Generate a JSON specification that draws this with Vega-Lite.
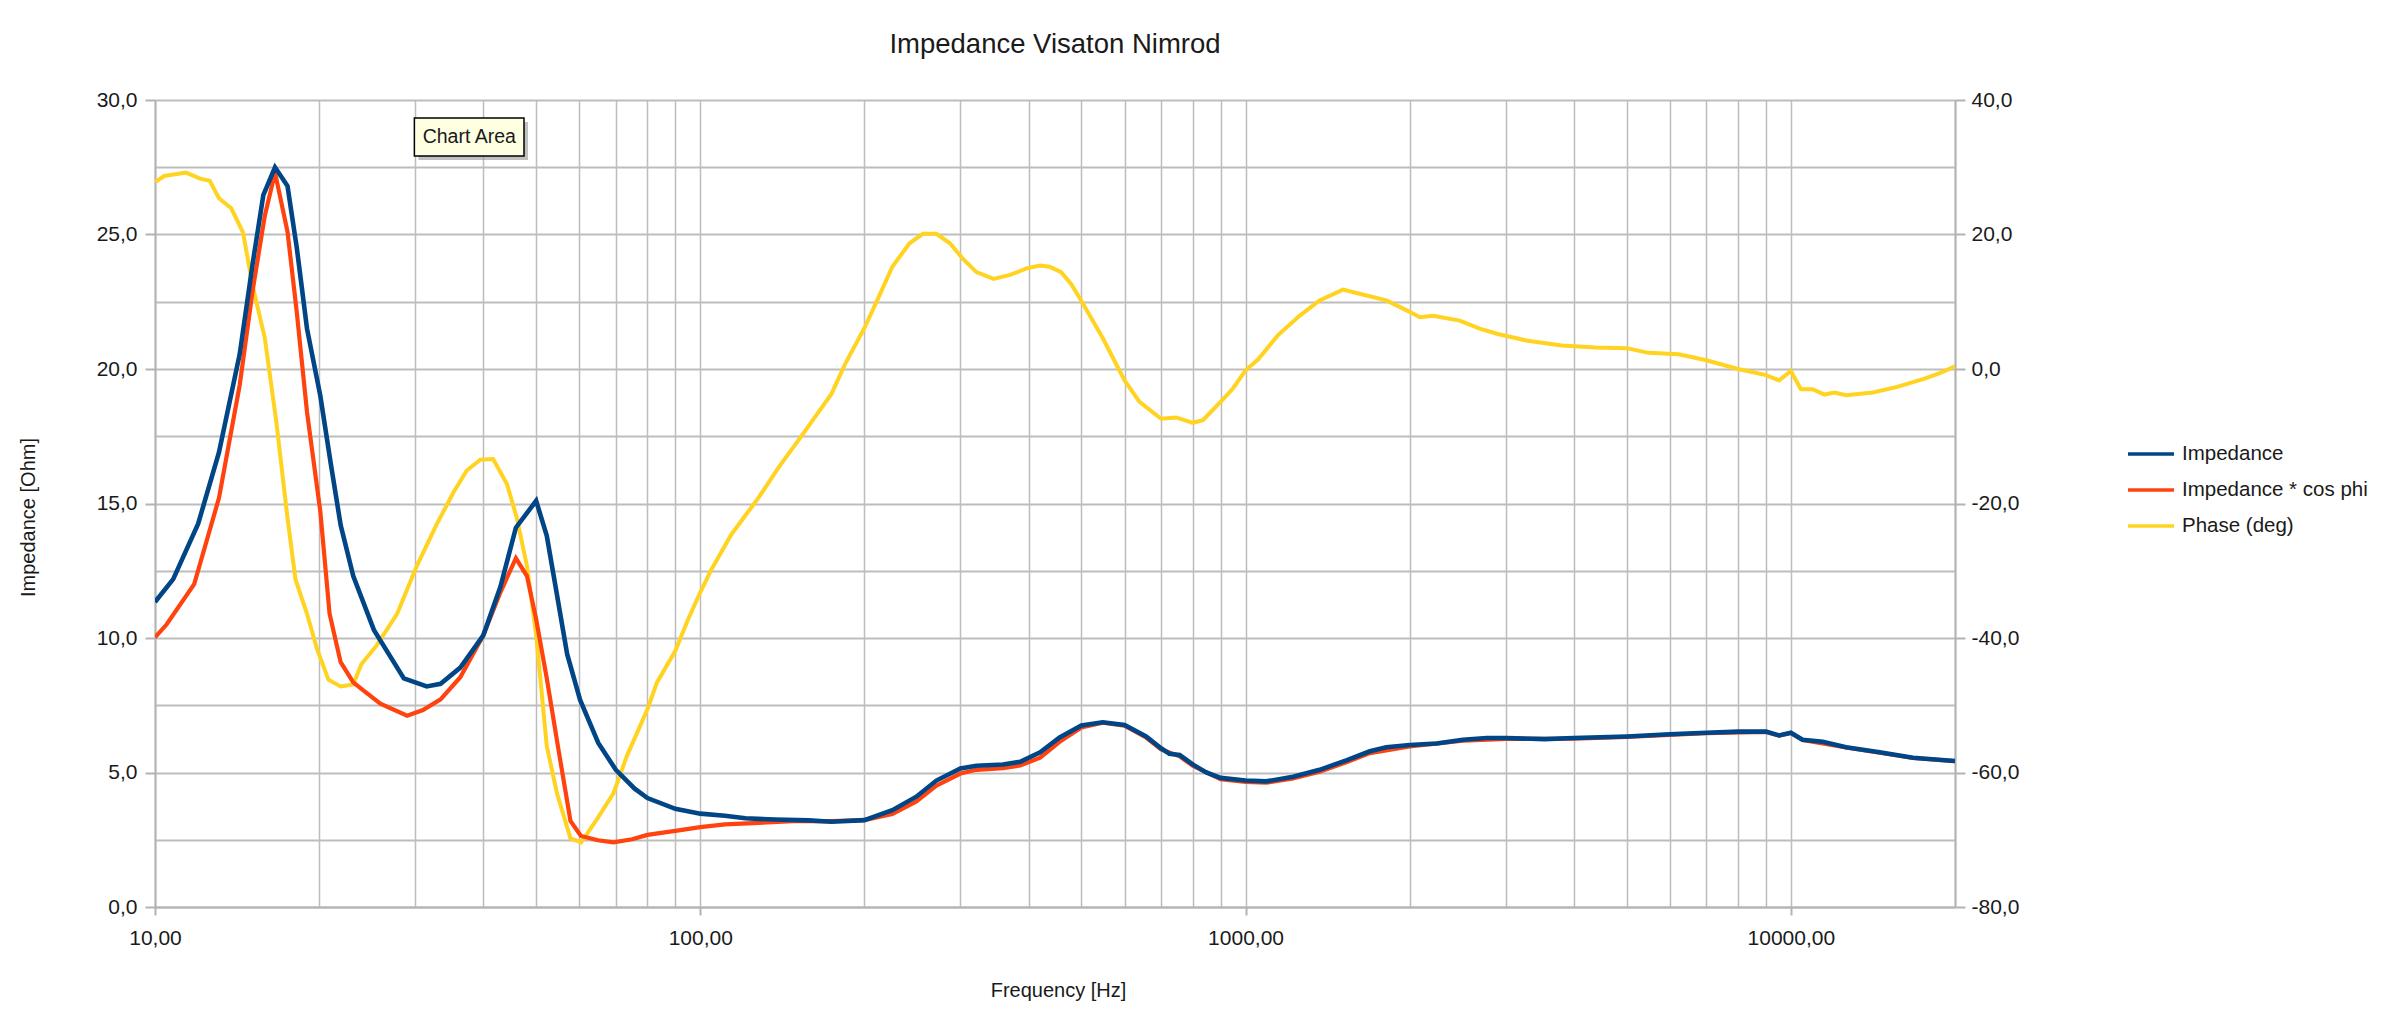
{
  "$schema": "https://vega.github.io/schema/vega-lite/v6.json",
  "width": 1800,
  "height": 807,
  "autosize": {"type": "none"},
  "padding": {"left": 155, "top": 100, "right": 430, "bottom": 111},
  "background": "white",
  "title": {
    "text": "Impedance Visaton Nimrod",
    "font": "Liberation Sans",
    "fontSize": 27.5,
    "fontWeight": "normal",
    "color": "#1a1a1a",
    "anchor": "middle",
    "frame": "group",
    "baseline": "alphabetic",
    "offset": 9
  },
  "config": {
    "locale": {"number": {"decimal": ",", "thousands": ".", "grouping": [3], "currency": ["", ""], "minus": "-"}},
    "font": "Liberation Sans",
    "view": {"stroke": null},
    "axis": {
      "labelFont": "Liberation Sans",
      "labelFontSize": 21,
      "labelColor": "#1a1a1a",
      "titleFont": "Liberation Sans",
      "titleFontSize": 20,
      "titleFontWeight": "normal",
      "titleColor": "#1a1a1a",
      "domainColor": "#b3b3b3",
      "domainWidth": 2,
      "tickColor": "#b3b3b3",
      "tickWidth": 2,
      "gridColor": "#bdbdbd",
      "labelOverlap": false,
      "labelFlush": false
    }
  },
  "datasets": {
    "curves": [
      {"f": 10, "v": 11.34, "s": "Impedance"},
      {"f": 10.8, "v": 12.19, "s": "Impedance"},
      {"f": 12.0, "v": 14.25, "s": "Impedance"},
      {"f": 13.1, "v": 16.9, "s": "Impedance"},
      {"f": 14.3, "v": 20.55, "s": "Impedance"},
      {"f": 15.1, "v": 23.9, "s": "Impedance"},
      {"f": 15.8, "v": 26.46, "s": "Impedance"},
      {"f": 16.6, "v": 27.5, "s": "Impedance"},
      {"f": 17.5, "v": 26.8, "s": "Impedance"},
      {"f": 18.2, "v": 24.5, "s": "Impedance"},
      {"f": 19.0, "v": 21.5, "s": "Impedance"},
      {"f": 20.1, "v": 19.0, "s": "Impedance"},
      {"f": 21.0, "v": 16.5, "s": "Impedance"},
      {"f": 21.9, "v": 14.2, "s": "Impedance"},
      {"f": 23.1, "v": 12.3, "s": "Impedance"},
      {"f": 25.2, "v": 10.3, "s": "Impedance"},
      {"f": 28.6, "v": 8.5, "s": "Impedance"},
      {"f": 31.5, "v": 8.2, "s": "Impedance"},
      {"f": 33.4, "v": 8.3, "s": "Impedance"},
      {"f": 36.3, "v": 8.9, "s": "Impedance"},
      {"f": 40, "v": 10.1, "s": "Impedance"},
      {"f": 43, "v": 11.9, "s": "Impedance"},
      {"f": 45.9, "v": 14.1, "s": "Impedance"},
      {"f": 50, "v": 15.1, "s": "Impedance"},
      {"f": 52.3, "v": 13.8, "s": "Impedance"},
      {"f": 54.6, "v": 11.6, "s": "Impedance"},
      {"f": 57, "v": 9.4, "s": "Impedance"},
      {"f": 60.2, "v": 7.7, "s": "Impedance"},
      {"f": 65, "v": 6.1, "s": "Impedance"},
      {"f": 70, "v": 5.1, "s": "Impedance"},
      {"f": 75.8, "v": 4.4, "s": "Impedance"},
      {"f": 80, "v": 4.05, "s": "Impedance"},
      {"f": 90, "v": 3.65, "s": "Impedance"},
      {"f": 100, "v": 3.47, "s": "Impedance"},
      {"f": 111, "v": 3.39, "s": "Impedance"},
      {"f": 121, "v": 3.3, "s": "Impedance"},
      {"f": 137, "v": 3.25, "s": "Impedance"},
      {"f": 158, "v": 3.22, "s": "Impedance"},
      {"f": 174, "v": 3.17, "s": "Impedance"},
      {"f": 200, "v": 3.23, "s": "Impedance"},
      {"f": 225, "v": 3.6, "s": "Impedance"},
      {"f": 249, "v": 4.1, "s": "Impedance"},
      {"f": 271, "v": 4.7, "s": "Impedance"},
      {"f": 300, "v": 5.15, "s": "Impedance"},
      {"f": 321, "v": 5.25, "s": "Impedance"},
      {"f": 359, "v": 5.3, "s": "Impedance"},
      {"f": 386, "v": 5.4, "s": "Impedance"},
      {"f": 420, "v": 5.75, "s": "Impedance"},
      {"f": 456, "v": 6.3, "s": "Impedance"},
      {"f": 500, "v": 6.75, "s": "Impedance"},
      {"f": 547, "v": 6.87, "s": "Impedance"},
      {"f": 600, "v": 6.77, "s": "Impedance"},
      {"f": 657, "v": 6.34, "s": "Impedance"},
      {"f": 700, "v": 5.9, "s": "Impedance"},
      {"f": 725, "v": 5.7, "s": "Impedance"},
      {"f": 757, "v": 5.65, "s": "Impedance"},
      {"f": 800, "v": 5.3, "s": "Impedance"},
      {"f": 847, "v": 5.0, "s": "Impedance"},
      {"f": 900, "v": 4.8, "s": "Impedance"},
      {"f": 1000, "v": 4.7, "s": "Impedance"},
      {"f": 1091, "v": 4.67, "s": "Impedance"},
      {"f": 1222, "v": 4.84, "s": "Impedance"},
      {"f": 1367, "v": 5.1, "s": "Impedance"},
      {"f": 1530, "v": 5.45, "s": "Impedance"},
      {"f": 1690, "v": 5.79, "s": "Impedance"},
      {"f": 1812, "v": 5.94, "s": "Impedance"},
      {"f": 2000, "v": 6.02, "s": "Impedance"},
      {"f": 2239, "v": 6.08, "s": "Impedance"},
      {"f": 2505, "v": 6.22, "s": "Impedance"},
      {"f": 2767, "v": 6.28, "s": "Impedance"},
      {"f": 3000, "v": 6.28, "s": "Impedance"},
      {"f": 3537, "v": 6.24, "s": "Impedance"},
      {"f": 4000, "v": 6.28, "s": "Impedance"},
      {"f": 5000, "v": 6.34, "s": "Impedance"},
      {"f": 6000, "v": 6.42, "s": "Impedance"},
      {"f": 7000, "v": 6.48, "s": "Impedance"},
      {"f": 8000, "v": 6.52, "s": "Impedance"},
      {"f": 9000, "v": 6.52, "s": "Impedance"},
      {"f": 9517, "v": 6.38, "s": "Impedance"},
      {"f": 10000, "v": 6.48, "s": "Impedance"},
      {"f": 10507, "v": 6.22, "s": "Impedance"},
      {"f": 11440, "v": 6.14, "s": "Impedance"},
      {"f": 12630, "v": 5.94, "s": "Impedance"},
      {"f": 14550, "v": 5.75, "s": "Impedance"},
      {"f": 16750, "v": 5.55, "s": "Impedance"},
      {"f": 20000, "v": 5.43, "s": "Impedance"},

      {"f": 10, "v": 10.02, "s": "Impedance * cos phi"},
      {"f": 10.5, "v": 10.5, "s": "Impedance * cos phi"},
      {"f": 11.8, "v": 12.0, "s": "Impedance * cos phi"},
      {"f": 13.1, "v": 15.2, "s": "Impedance * cos phi"},
      {"f": 14.3, "v": 19.4, "s": "Impedance * cos phi"},
      {"f": 15.1, "v": 22.9, "s": "Impedance * cos phi"},
      {"f": 15.9, "v": 25.7, "s": "Impedance * cos phi"},
      {"f": 16.6, "v": 27.3, "s": "Impedance * cos phi"},
      {"f": 17.5, "v": 25.1, "s": "Impedance * cos phi"},
      {"f": 18.2, "v": 22.1, "s": "Impedance * cos phi"},
      {"f": 19.0, "v": 18.4, "s": "Impedance * cos phi"},
      {"f": 20.1, "v": 14.7, "s": "Impedance * cos phi"},
      {"f": 20.9, "v": 10.9, "s": "Impedance * cos phi"},
      {"f": 21.9, "v": 9.1, "s": "Impedance * cos phi"},
      {"f": 23.1, "v": 8.35, "s": "Impedance * cos phi"},
      {"f": 24.1, "v": 8.05, "s": "Impedance * cos phi"},
      {"f": 25.9, "v": 7.56, "s": "Impedance * cos phi"},
      {"f": 29, "v": 7.11, "s": "Impedance * cos phi"},
      {"f": 31, "v": 7.32, "s": "Impedance * cos phi"},
      {"f": 33.4, "v": 7.72, "s": "Impedance * cos phi"},
      {"f": 36.3, "v": 8.54, "s": "Impedance * cos phi"},
      {"f": 40, "v": 10.1, "s": "Impedance * cos phi"},
      {"f": 43, "v": 11.7, "s": "Impedance * cos phi"},
      {"f": 45.9, "v": 12.97, "s": "Impedance * cos phi"},
      {"f": 48.1, "v": 12.3, "s": "Impedance * cos phi"},
      {"f": 50, "v": 10.7, "s": "Impedance * cos phi"},
      {"f": 52.3, "v": 8.5, "s": "Impedance * cos phi"},
      {"f": 55, "v": 5.8, "s": "Impedance * cos phi"},
      {"f": 57.8, "v": 3.2, "s": "Impedance * cos phi"},
      {"f": 60.4, "v": 2.64, "s": "Impedance * cos phi"},
      {"f": 64.9, "v": 2.48, "s": "Impedance * cos phi"},
      {"f": 69.3, "v": 2.4, "s": "Impedance * cos phi"},
      {"f": 75, "v": 2.52, "s": "Impedance * cos phi"},
      {"f": 80, "v": 2.68, "s": "Impedance * cos phi"},
      {"f": 90, "v": 2.83, "s": "Impedance * cos phi"},
      {"f": 100, "v": 2.97, "s": "Impedance * cos phi"},
      {"f": 111, "v": 3.07, "s": "Impedance * cos phi"},
      {"f": 128, "v": 3.13, "s": "Impedance * cos phi"},
      {"f": 148, "v": 3.19, "s": "Impedance * cos phi"},
      {"f": 174, "v": 3.19, "s": "Impedance * cos phi"},
      {"f": 200, "v": 3.23, "s": "Impedance * cos phi"},
      {"f": 225, "v": 3.46, "s": "Impedance * cos phi"},
      {"f": 249, "v": 3.92, "s": "Impedance * cos phi"},
      {"f": 271, "v": 4.51, "s": "Impedance * cos phi"},
      {"f": 300, "v": 4.96, "s": "Impedance * cos phi"},
      {"f": 321, "v": 5.1, "s": "Impedance * cos phi"},
      {"f": 359, "v": 5.16, "s": "Impedance * cos phi"},
      {"f": 386, "v": 5.26, "s": "Impedance * cos phi"},
      {"f": 420, "v": 5.55, "s": "Impedance * cos phi"},
      {"f": 456, "v": 6.14, "s": "Impedance * cos phi"},
      {"f": 500, "v": 6.67, "s": "Impedance * cos phi"},
      {"f": 547, "v": 6.85, "s": "Impedance * cos phi"},
      {"f": 600, "v": 6.74, "s": "Impedance * cos phi"},
      {"f": 657, "v": 6.3, "s": "Impedance * cos phi"},
      {"f": 700, "v": 5.86, "s": "Impedance * cos phi"},
      {"f": 757, "v": 5.6, "s": "Impedance * cos phi"},
      {"f": 800, "v": 5.25, "s": "Impedance * cos phi"},
      {"f": 900, "v": 4.75, "s": "Impedance * cos phi"},
      {"f": 1000, "v": 4.65, "s": "Impedance * cos phi"},
      {"f": 1091, "v": 4.62, "s": "Impedance * cos phi"},
      {"f": 1222, "v": 4.78, "s": "Impedance * cos phi"},
      {"f": 1367, "v": 5.03, "s": "Impedance * cos phi"},
      {"f": 1530, "v": 5.38, "s": "Impedance * cos phi"},
      {"f": 1690, "v": 5.72, "s": "Impedance * cos phi"},
      {"f": 2000, "v": 5.97, "s": "Impedance * cos phi"},
      {"f": 2505, "v": 6.18, "s": "Impedance * cos phi"},
      {"f": 3000, "v": 6.25, "s": "Impedance * cos phi"},
      {"f": 4000, "v": 6.26, "s": "Impedance * cos phi"},
      {"f": 5000, "v": 6.32, "s": "Impedance * cos phi"},
      {"f": 7000, "v": 6.46, "s": "Impedance * cos phi"},
      {"f": 9000, "v": 6.51, "s": "Impedance * cos phi"},
      {"f": 9517, "v": 6.37, "s": "Impedance * cos phi"},
      {"f": 10000, "v": 6.47, "s": "Impedance * cos phi"},
      {"f": 10507, "v": 6.21, "s": "Impedance * cos phi"},
      {"f": 12630, "v": 5.93, "s": "Impedance * cos phi"},
      {"f": 16750, "v": 5.54, "s": "Impedance * cos phi"},
      {"f": 20000, "v": 5.42, "s": "Impedance * cos phi"},

      {"f": 10, "v": 27.8, "s": "\u2005Phase (deg)"},
      {"f": 10.4, "v": 28.7, "s": "\u2005Phase (deg)"},
      {"f": 11.4, "v": 29.2, "s": "\u2005Phase (deg)"},
      {"f": 12.1, "v": 28.3, "s": "\u2005Phase (deg)"},
      {"f": 12.6, "v": 28.0, "s": "\u2005Phase (deg)"},
      {"f": 13.1, "v": 25.4, "s": "\u2005Phase (deg)"},
      {"f": 13.8, "v": 23.9, "s": "\u2005Phase (deg)"},
      {"f": 14.5, "v": 20.3, "s": "\u2005Phase (deg)"},
      {"f": 15.1, "v": 12.4, "s": "\u2005Phase (deg)"},
      {"f": 15.9, "v": 4.6, "s": "\u2005Phase (deg)"},
      {"f": 16.7, "v": -8.0, "s": "\u2005Phase (deg)"},
      {"f": 17.5, "v": -22.2, "s": "\u2005Phase (deg)"},
      {"f": 18.1, "v": -31.3, "s": "\u2005Phase (deg)"},
      {"f": 19.0, "v": -36.4, "s": "\u2005Phase (deg)"},
      {"f": 19.8, "v": -41.5, "s": "\u2005Phase (deg)"},
      {"f": 20.8, "v": -46.2, "s": "\u2005Phase (deg)"},
      {"f": 21.9, "v": -47.2, "s": "\u2005Phase (deg)"},
      {"f": 23.1, "v": -46.9, "s": "\u2005Phase (deg)"},
      {"f": 23.9, "v": -43.9, "s": "\u2005Phase (deg)"},
      {"f": 25.5, "v": -41.1, "s": "\u2005Phase (deg)"},
      {"f": 27.8, "v": -36.4, "s": "\u2005Phase (deg)"},
      {"f": 30.2, "v": -29.3, "s": "\u2005Phase (deg)"},
      {"f": 32.9, "v": -23.0, "s": "\u2005Phase (deg)"},
      {"f": 35.3, "v": -18.3, "s": "\u2005Phase (deg)"},
      {"f": 37.3, "v": -15.1, "s": "\u2005Phase (deg)"},
      {"f": 39.5, "v": -13.5, "s": "\u2005Phase (deg)"},
      {"f": 41.7, "v": -13.4, "s": "\u2005Phase (deg)"},
      {"f": 44.2, "v": -17.1, "s": "\u2005Phase (deg)"},
      {"f": 46.1, "v": -22.2, "s": "\u2005Phase (deg)"},
      {"f": 48.1, "v": -29.3, "s": "\u2005Phase (deg)"},
      {"f": 50, "v": -39.5, "s": "\u2005Phase (deg)"},
      {"f": 52.3, "v": -56.1, "s": "\u2005Phase (deg)"},
      {"f": 54.6, "v": -63.1, "s": "\u2005Phase (deg)"},
      {"f": 57.8, "v": -69.8, "s": "\u2005Phase (deg)"},
      {"f": 60.5, "v": -70.4, "s": "\u2005Phase (deg)"},
      {"f": 64.7, "v": -66.9, "s": "\u2005Phase (deg)"},
      {"f": 69.3, "v": -63.1, "s": "\u2005Phase (deg)"},
      {"f": 73.3, "v": -57.6, "s": "\u2005Phase (deg)"},
      {"f": 80, "v": -50.6, "s": "\u2005Phase (deg)"},
      {"f": 83.3, "v": -46.6, "s": "\u2005Phase (deg)"},
      {"f": 90, "v": -41.9, "s": "\u2005Phase (deg)"},
      {"f": 95, "v": -37.2, "s": "\u2005Phase (deg)"},
      {"f": 100, "v": -33.2, "s": "\u2005Phase (deg)"},
      {"f": 105, "v": -29.7, "s": "\u2005Phase (deg)"},
      {"f": 114, "v": -24.6, "s": "\u2005Phase (deg)"},
      {"f": 128, "v": -19.1, "s": "\u2005Phase (deg)"},
      {"f": 139, "v": -14.7, "s": "\u2005Phase (deg)"},
      {"f": 152, "v": -10.4, "s": "\u2005Phase (deg)"},
      {"f": 174, "v": -3.7, "s": "\u2005Phase (deg)"},
      {"f": 185, "v": 1.0, "s": "\u2005Phase (deg)"},
      {"f": 200, "v": 6.1, "s": "\u2005Phase (deg)"},
      {"f": 213, "v": 10.9, "s": "\u2005Phase (deg)"},
      {"f": 225, "v": 15.2, "s": "\u2005Phase (deg)"},
      {"f": 242, "v": 18.7, "s": "\u2005Phase (deg)"},
      {"f": 256, "v": 20.1, "s": "\u2005Phase (deg)"},
      {"f": 271, "v": 20.1, "s": "\u2005Phase (deg)"},
      {"f": 287, "v": 18.7, "s": "\u2005Phase (deg)"},
      {"f": 303, "v": 16.4, "s": "\u2005Phase (deg)"},
      {"f": 321, "v": 14.4, "s": "\u2005Phase (deg)"},
      {"f": 345, "v": 13.4, "s": "\u2005Phase (deg)"},
      {"f": 370, "v": 14.0, "s": "\u2005Phase (deg)"},
      {"f": 398, "v": 15.0, "s": "\u2005Phase (deg)"},
      {"f": 420, "v": 15.4, "s": "\u2005Phase (deg)"},
      {"f": 437, "v": 15.2, "s": "\u2005Phase (deg)"},
      {"f": 459, "v": 14.4, "s": "\u2005Phase (deg)"},
      {"f": 479, "v": 12.6, "s": "\u2005Phase (deg)"},
      {"f": 500, "v": 10.1, "s": "\u2005Phase (deg)"},
      {"f": 547, "v": 4.6, "s": "\u2005Phase (deg)"},
      {"f": 600, "v": -1.7, "s": "\u2005Phase (deg)"},
      {"f": 639, "v": -4.9, "s": "\u2005Phase (deg)"},
      {"f": 700, "v": -7.4, "s": "\u2005Phase (deg)"},
      {"f": 746, "v": -7.2, "s": "\u2005Phase (deg)"},
      {"f": 800, "v": -8.0, "s": "\u2005Phase (deg)"},
      {"f": 835, "v": -7.6, "s": "\u2005Phase (deg)"},
      {"f": 900, "v": -4.9, "s": "\u2005Phase (deg)"},
      {"f": 948, "v": -2.9, "s": "\u2005Phase (deg)"},
      {"f": 1000, "v": -0.2, "s": "\u2005Phase (deg)"},
      {"f": 1054, "v": 1.4, "s": "\u2005Phase (deg)"},
      {"f": 1146, "v": 5.0, "s": "\u2005Phase (deg)"},
      {"f": 1256, "v": 7.9, "s": "\u2005Phase (deg)"},
      {"f": 1367, "v": 10.2, "s": "\u2005Phase (deg)"},
      {"f": 1509, "v": 11.8, "s": "\u2005Phase (deg)"},
      {"f": 1597, "v": 11.3, "s": "\u2005Phase (deg)"},
      {"f": 1812, "v": 10.2, "s": "\u2005Phase (deg)"},
      {"f": 2000, "v": 8.5, "s": "\u2005Phase (deg)"},
      {"f": 2087, "v": 7.7, "s": "\u2005Phase (deg)"},
      {"f": 2207, "v": 7.9, "s": "\u2005Phase (deg)"},
      {"f": 2470, "v": 7.2, "s": "\u2005Phase (deg)"},
      {"f": 2688, "v": 6.0, "s": "\u2005Phase (deg)"},
      {"f": 2900, "v": 5.2, "s": "\u2005Phase (deg)"},
      {"f": 3291, "v": 4.2, "s": "\u2005Phase (deg)"},
      {"f": 3797, "v": 3.5, "s": "\u2005Phase (deg)"},
      {"f": 4380, "v": 3.2, "s": "\u2005Phase (deg)"},
      {"f": 5000, "v": 3.1, "s": "\u2005Phase (deg)"},
      {"f": 5481, "v": 2.4, "s": "\u2005Phase (deg)"},
      {"f": 6225, "v": 2.2, "s": "\u2005Phase (deg)"},
      {"f": 7000, "v": 1.3, "s": "\u2005Phase (deg)"},
      {"f": 8000, "v": 0.0, "s": "\u2005Phase (deg)"},
      {"f": 9000, "v": -0.9, "s": "\u2005Phase (deg)"},
      {"f": 9517, "v": -1.7, "s": "\u2005Phase (deg)"},
      {"f": 10000, "v": -0.3, "s": "\u2005Phase (deg)"},
      {"f": 10433, "v": -3.0, "s": "\u2005Phase (deg)"},
      {"f": 10963, "v": -3.0, "s": "\u2005Phase (deg)"},
      {"f": 11520, "v": -3.8, "s": "\u2005Phase (deg)"},
      {"f": 12020, "v": -3.5, "s": "\u2005Phase (deg)"},
      {"f": 12630, "v": -3.9, "s": "\u2005Phase (deg)"},
      {"f": 14140, "v": -3.5, "s": "\u2005Phase (deg)"},
      {"f": 15600, "v": -2.7, "s": "\u2005Phase (deg)"},
      {"f": 17480, "v": -1.5, "s": "\u2005Phase (deg)"},
      {"f": 18760, "v": -0.6, "s": "\u2005Phase (deg)"},
      {"f": 20000, "v": 0.4, "s": "\u2005Phase (deg)"}
    ],
    "note": [
      {"f1": 29.9, "f2": 47.5, "fm": 37.7, "z1": 29.33, "z2": 27.92, "zm": 28.62, "label": "Chart Area"}
    ]
  },
  "layer": [
    {
      "data": {"name": "curves"},
      "transform": [{"filter": "indexof(datum.s, 'Phase') >= 0"}],
      "mark": {"type": "line", "strokeWidth": 4, "clip": true},
      "encoding": {
        "x": {
          "field": "f",
          "type": "quantitative",
          "title": "Frequency [Hz]",
          "scale": {"type": "log", "domain": [10, 20000], "nice": false},
          "axis": {
            "values": [10, 20, 30, 40, 50, 60, 70, 80, 90, 100, 200, 300, 400, 500, 600, 700, 800, 900, 1000, 2000, 3000, 4000, 5000, 6000, 7000, 8000, 9000, 10000, 20000],
            "format": ".2f",
            "labelExpr": "indexof([10, 100, 1000, 10000], datum.value) >= 0 ? datum.label : ''",
            "grid": true,
            "gridWidth": 1.5,
            "tickSize": 8,
            "tickOpacity": {"condition": {"test": "indexof([10, 100, 1000, 10000], datum.value) < 0", "value": 0}, "value": 1},
            "labelPadding": 12,
            "titleX": 903,
            "titleY": 89,
            "titleBaseline": "alphabetic"
          }
        },
        "y": {
          "field": "v",
          "type": "quantitative",
          "title": null,
          "scale": {"domain": [-80, 40], "nice": false, "zero": false},
          "axis": {
            "orient": "right",
            "values": [-80, -60, -40, -20, 0, 20, 40],
            "format": ".1f",
            "grid": false,
            "tickSize": 10,
            "labelPadding": 6
          }
        },
        "color": {
          "field": "s",
          "type": "nominal",
          "scale": {
            "domain": ["Impedance", "Impedance * cos phi", "\u2005Phase (deg)"],
            "range": ["#004586", "#ff420e", "#ffd320"]
          },
          "legend": {
            "title": null,
            "orient": "none",
            "legendX": 1971,
            "legendY": 329,
            "symbolType": "stroke",
            "symbolSize": 2116,
            "symbolStrokeWidth": 3.5,
            "labelFontSize": 20.5,
            "labelColor": "#1a1a1a",
            "labelFont": "Liberation Sans",
            "labelOffset": 6,
            "labelLimit": 400,
            "rowPadding": 0
          }
        }
      }
    },
    {
      "layer": [
        {
          "data": {"name": "curves"},
          "transform": [{"filter": "datum.s == 'Impedance * cos phi'"}],
          "mark": {"type": "line", "strokeWidth": 4.2, "clip": true},
          "encoding": {
            "x": {"field": "f", "type": "quantitative", "title": "Frequency [Hz]", "scale": {"type": "log", "domain": [10, 20000], "nice": false}},
            "y": {
              "field": "v",
              "type": "quantitative",
              "title": "Impedance [Ohm]",
              "scale": {"domain": [0, 30], "nice": false},
              "axis": {
                "orient": "left",
                "values": [0, 2.5, 5, 7.5, 10, 12.5, 15, 17.5, 20, 22.5, 25, 27.5, 30],
                "format": ".1f",
                "labelExpr": "datum.value % 5 == 0 ? datum.label : ''",
                "grid": true,
                "gridWidth": 2,
                "tickSize": 10,
                "tickOpacity": {"condition": {"test": "datum.value % 5 != 0", "value": 0}, "value": 1},
                "labelPadding": 8,
                "titleX": -121,
                "titleY": 417,
                "titleAngle": 270,
                "titleBaseline": "alphabetic",
                "titleAlign": "center"
              }
            },
            "color": {"field": "s", "type": "nominal"}
          }
        },
        {
          "data": {"name": "curves"},
          "transform": [{"filter": "datum.s == 'Impedance'"}],
          "mark": {"type": "line", "strokeWidth": 4.6, "clip": true},
          "encoding": {
            "x": {"field": "f", "type": "quantitative", "title": "Frequency [Hz]", "scale": {"type": "log", "domain": [10, 20000], "nice": false}},
            "y": {"field": "v", "type": "quantitative", "title": "Impedance [Ohm]", "scale": {"domain": [0, 30], "nice": false}},
            "color": {"field": "s", "type": "nominal"}
          }
        },
        {
          "data": {"name": "note"},
          "mark": {"type": "rect", "fill": "#8c8c8c", "opacity": 0.55, "xOffset": 4, "x2Offset": 4, "yOffset": 4, "y2Offset": 4},
          "encoding": {
            "x": {"field": "f1", "type": "quantitative", "title": "Frequency [Hz]", "scale": {"type": "log", "domain": [10, 20000], "nice": false}},
            "x2": {"field": "f2"},
            "y": {"field": "z1", "type": "quantitative", "title": "Impedance [Ohm]", "scale": {"domain": [0, 30], "nice": false}},
            "y2": {"field": "z2"}
          }
        },
        {
          "data": {"name": "note"},
          "mark": {"type": "rect", "fill": "#ffffe1", "stroke": "#000000", "strokeWidth": 1.5},
          "encoding": {
            "x": {"field": "f1", "type": "quantitative", "title": "Frequency [Hz]", "scale": {"type": "log", "domain": [10, 20000], "nice": false}},
            "x2": {"field": "f2"},
            "y": {"field": "z1", "type": "quantitative", "title": "Impedance [Ohm]", "scale": {"domain": [0, 30], "nice": false}},
            "y2": {"field": "z2"}
          }
        },
        {
          "data": {"name": "note"},
          "mark": {"type": "text", "font": "Liberation Sans", "fontSize": 19.5, "color": "#1a1a1a", "align": "center", "baseline": "middle"},
          "encoding": {
            "x": {"field": "fm", "type": "quantitative", "title": "Frequency [Hz]", "scale": {"type": "log", "domain": [10, 20000], "nice": false}},
            "y": {"field": "zm", "type": "quantitative", "title": "Impedance [Ohm]", "scale": {"domain": [0, 30], "nice": false}},
            "text": {"field": "label"}
          }
        }
      ]
    }
  ],
  "resolve": {"scale": {"y": "independent"}, "axis": {"y": "independent"}}
}
